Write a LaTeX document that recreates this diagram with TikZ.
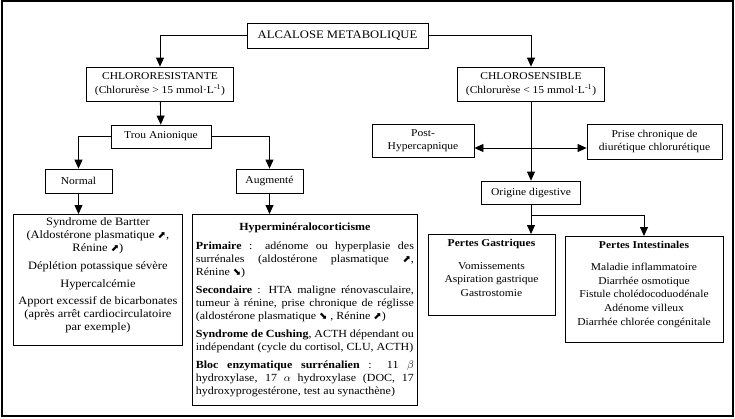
\documentclass[tikz,border=0pt]{standalone}
\usepackage{fontspec}
\setmainfont[FakeStretch=1.1]{Liberation Serif}
\newfontfamily\flechefont{DejaVu Sans}
\usetikzlibrary{arrows.meta}
\newcommand{\monte}{{\flechefont\fontsize{10}{10}\selectfont ⬈}}
\newcommand{\descend}{{\flechefont\fontsize{10}{10}\selectfont ⬊}}

\begin{document}
\begin{tikzpicture}[x=1pt, y=-1pt,
 boite/.style={draw, line width=0.8pt, inner sep=3pt, align=center},
 fleche/.style={-{Triangle[length=9pt,width=8pt]}, line width=0.8pt},
 font=\fontsize{10.5}{13.5}\selectfont]

 \useasboundingbox (0,0) rectangle (735,418);
 \draw[line width=1.2pt] (2,1) rectangle (733,416);

 \node[boite, minimum width=181pt, minimum height=25pt, font=\fontsize{11.5}{12}\selectfont] (alcalose) at (337.5,35.5) {ALCALOSE METABOLIQUE};

 \node[boite, minimum width=147pt, minimum height=34pt] (chlres) at (160,84) {CHLORORESISTANTE\\(Chlorurèse > 15 mmol·L\textsuperscript{-1})};

 \node[boite, minimum width=147pt, minimum height=34pt] (chlsens) at (531,84) {CHLOROSENSIBLE\\(Chlorurèse < 15 mmol·L\textsuperscript{-1})};

 \node[boite, minimum width=100pt, minimum height=23pt] (trou) at (161,136.5) {Trou Anionique};

 \node[boite, minimum width=67pt, minimum height=24pt] (normal) at (78.5,181) {Normal};

 \node[boite, minimum width=67pt, minimum height=24pt] (augmente) at (269.5,181) {Augmenté};

 \node[boite, anchor=north west, inner sep=3pt, font=\fontsize{11.3}{13}\selectfont] (bartter) at (13,214) {\parbox[t][125pt][t]{163pt}{\centering Syndrome de Bartter\\ (Aldostérone plasmatique \monte,\\ Rénine \monte)\\[5pt] Déplétion potassique sévère\\[5pt] Hypercalcémie\\[4pt] Apport excessif de bicarbonates\\ (après arrêt cardiocirculatoire\\ par exemple)}};

 \node[boite, anchor=north west, text width=218pt, inner xsep=3.5pt, inner ysep=8.5pt, align=justify, font=\fontsize{10.9}{13}\selectfont] (hyper) at (192,214) {{\centering\bfseries Hyperminéralocorticisme\par}\vspace{6pt}
 \textbf{Primaire} : adénome ou hyperplasie des \linebreak surrénales (aldostérone plasmatique \monte, \linebreak Rénine \descend)\par\vspace{5pt}
 \textbf{Secondaire} : HTA maligne rénovasculaire, \linebreak tumeur à rénine, prise chronique de réglisse \linebreak (aldostérone plasmatique \descend\ , Rénine \monte)\par\vspace{5pt}
 \textbf{Syndrome de Cushing}, ACTH dépendant ou \linebreak indépendant (cycle du cortisol, CLU, ACTH)\par\vspace{5pt}
 \textbf{Bloc enzymatique surrénalien} : 11 $\beta$ \linebreak hydroxylase, 17 $\alpha$ hydroxylase (DOC, 17 \linebreak hydroxyprogestérone, test au synacthène)};

 \node[boite, minimum width=102pt, minimum height=33pt] (post) at (423,140.5) {Post-\\Hypercapnique};

 \node[boite, minimum width=135pt, minimum height=35pt] (prise) at (654.5,141.5) {Prise chronique de\\diurétique chlorurétique};

 \node[boite, minimum width=99pt, minimum height=23pt] (origine) at (531,192.5) {Origine digestive};

 \node[boite, anchor=north, inner sep=5pt] (gastr) at (491.5,234) {\parbox[t][71pt][t]{117pt}{\centering\baselineskip=13.5pt \textbf{Pertes Gastriques}\\[9pt] Vomissements\\ Aspiration gastrique\\ Gastrostomie}};

 \node[boite, anchor=north, inner sep=5pt] (intest) at (644,236) {\parbox[t][96pt][t]{148pt}{\centering\baselineskip=13.7pt \textbf{Pertes Intestinales}\\[8pt] Maladie inflammatoire\\ Diarrhée osmotique\\ Fistule cholédocoduodénale\\ Adénome villeux\\ Diarrhée chlorée congénitale}};

 \coordinate (croix) at (531,148);
 \coordinate (embr) at (531,215);

 \draw[fleche] (alcalose.west) -| (chlres.north);
 \draw[fleche] (alcalose.east) -| (chlsens.north);
 \draw[fleche] (chlres) -- (trou);
 \draw[fleche] (trou.west) -| (normal.north);
 \draw[fleche] (trou.east) -| (augmente.north);
 \draw[fleche] (normal.south) -- (normal.south |- bartter.north);
 \draw[fleche] (augmente.south) -- (augmente.south |- hyper.north);
 \draw[fleche] (chlsens) -- (origine);
 \draw[fleche] (croix) -- (croix -| post.east);
 \draw[fleche] (croix) -- (croix -| prise.west);
 \draw[line width=0.8pt] (origine.south) -- (embr);
 \draw[fleche] (embr) -- (embr |- gastr.north);
 \draw[fleche] (embr) -| (intest.north);

\end{tikzpicture}
\end{document}
